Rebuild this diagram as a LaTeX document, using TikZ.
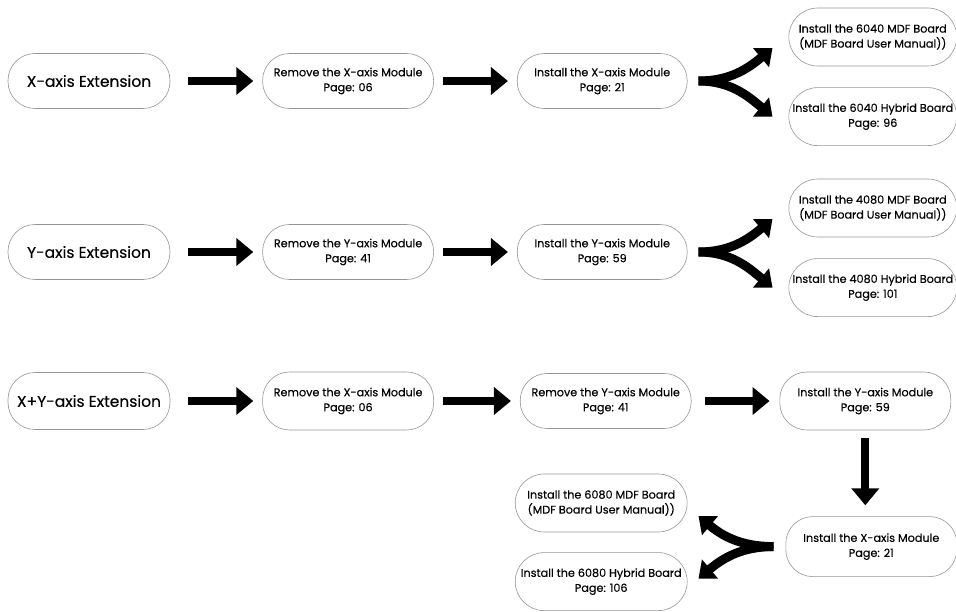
\documentclass[tikz,border=0pt]{standalone}
\usepackage{fontspec}
\setmainfont{Poppins}[FakeBold=0.25]
\usepackage{tikz}
\usetikzlibrary{arrows.meta, positioning}
\definecolor{pillgray}{RGB}{150, 150, 150}

\begin{document}
\begin{tikzpicture}[
    x=1pt, y=-1pt,
    node distance=88pt,
    pill/.style={draw=pillgray, line width=0.6pt, rounded corners=27pt, minimum width=170pt, minimum height=55pt, inner sep=1pt, align=center, font=\fontsize{11.2}{15}\selectfont},
    startpill/.style={pill, minimum width=162pt, font=\fontsize{15.5}{18}\selectfont},
    boardpill/.style={pill, minimum width=168pt, minimum height=58pt, rounded corners=29pt},
    arrow/.style={line width=8pt, -{Triangle[length=17pt, width=27pt]}},
    fork/.style={line width=9pt, -{Triangle[length=15pt, width=24pt]}}
]
    \useasboundingbox (0,0) rectangle (956,612);

    % X-axis row
    \node[startpill] (xext) at (89,81) {X-axis Extension};
    \node[pill, minimum width=171pt, right=92pt of xext] (rmx) {Remove the X-axis Module\\Page: 06};
    \node[pill, right=83pt of rmx] (inx) {Install the X-axis Module\\Page: 21};
    \node[boardpill, right=101pt of inx, yshift=44pt] (mdfa) {Install the 6040 MDF Board\\(MDF Board User Manual))};
    \node[boardpill, below=21pt of mdfa] (hyba) {Install the 6040 Hybrid Board\\Page: 96};

    \draw[arrow, shorten <=18pt, shorten >=9pt] (xext) -- (rmx);
    \draw[arrow, shorten <=9pt, shorten >=9pt] (rmx) -- (inx);
    \draw[fork] ([xshift=11pt]inx.east) to[out=0, in=220] ([xshift=-16pt, yshift=-11pt]mdfa.west);
    \draw[fork] ([xshift=11pt]inx.east) to[out=0, in=140] ([xshift=-16pt]hyba.west);

    % Y-axis row
    \node[startpill] (yext) at (89,252) {Y-axis Extension};
    \node[pill, minimum width=171pt, right=92pt of yext] (rmy) {Remove the Y-axis Module\\Page: 41};
    \node[pill, right=83pt of rmy] (iny) {Install the Y-axis Module\\Page: 59};
    \node[boardpill, right=101pt of iny, yshift=44pt] (mdfb) {Install the 4080 MDF Board\\(MDF Board User Manual))};
    \node[boardpill, below=21pt of mdfb] (hybb) {Install the 4080 Hybrid Board\\Page: 101};

    \draw[arrow, shorten <=18pt, shorten >=9pt] (yext) -- (rmy);
    \draw[arrow, shorten <=9pt, shorten >=9pt] (rmy) -- (iny);
    \draw[fork] ([xshift=11pt]iny.east) to[out=0, in=220] ([xshift=-16pt, yshift=-11pt]mdfb.west);
    \draw[fork] ([xshift=11pt]iny.east) to[out=0, in=140] ([xshift=-16pt]hybb.west);

    % X+Y-axis row
    \node[startpill, minimum height=57pt] (xyext) at (89,401) {X+Y-axis Extension};
    \node[pill, minimum width=171pt, minimum height=58pt, right=92pt of xyext] (xyrmx) {Remove the X-axis Module\\Page: 06};
    \node[pill, minimum width=171pt, right=86pt of xyrmx] (xyrmy) {Remove the Y-axis Module\\Page: 41};
    \node[pill, minimum width=171pt, minimum height=58pt, right=88pt of xyrmy] (xyiny) {Install the Y-axis Module\\Page: 59};
    \node[pill, minimum width=171pt, minimum height=60pt, below=86pt of xyiny, xshift=6pt] (xyinx) {Install the X-axis Module\\Page: 21};
    \node[boardpill, minimum width=172pt, left=98pt of xyinx, yshift=-35pt] (hybc) {Install the 6080 Hybrid Board\\Page: 106};
    \node[boardpill, minimum width=172pt, above=20pt of hybc] (mdfc) {Install the 6080 MDF Board\\(MDF Board User Manual))};

    \draw[arrow, shorten <=18pt, shorten >=9pt] (xyext) -- (xyrmx);
    \draw[arrow, shorten <=9pt, shorten >=9pt] (xyrmx) -- (xyrmy);
    \draw[arrow, shorten <=13pt, shorten >=10pt] (xyrmy) -- (xyiny);
    \draw[arrow, shorten <=8pt, shorten >=11pt] (xyiny.south) -- (xyiny.south |- xyinx.north);
    \draw[fork] ([xshift=-12pt]xyinx.west) to[out=180, in=-40] ([xshift=11pt, yshift=-13pt]mdfc.east);
    \draw[fork] ([xshift=-12pt]xyinx.west) to[out=180, in=40] ([xshift=11pt, yshift=3pt]hybc.east);
\end{tikzpicture}
\end{document}
